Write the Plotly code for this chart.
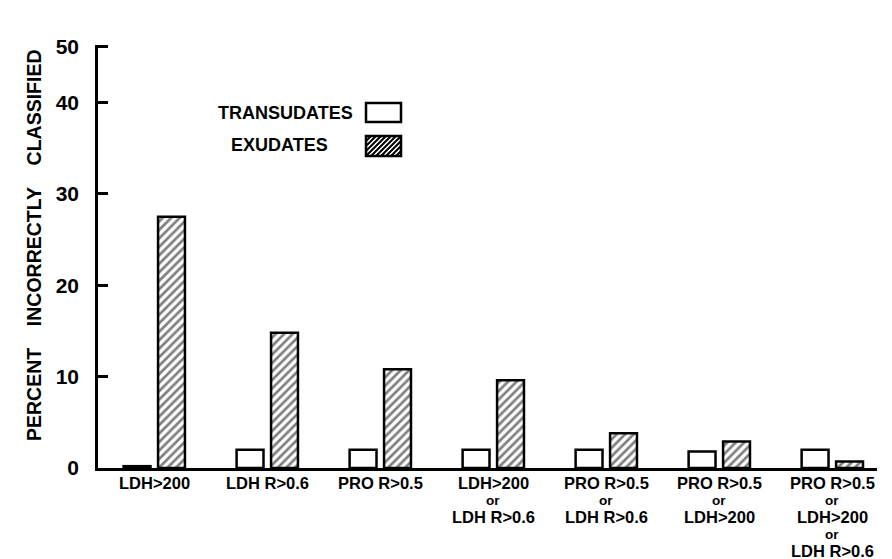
import plotly.graph_objects as go

categories = ["LDH>200", "LDH R>0.6", "PRO R>0.5",
              "LDH>200 or LDH R>0.6", "PRO R>0.5 or LDH R>0.6",
              "PRO R>0.5 or LDH>200", "PRO R>0.5 or LDH>200 or LDH R>0.6"]
label_lines = [["LDH>200"], ["LDH R>0.6"], ["PRO R>0.5"],
               ["LDH>200", "or", "LDH R>0.6"],
               ["PRO R>0.5", "or", "LDH R>0.6"],
               ["PRO R>0.5", "or", "LDH>200"],
               ["PRO R>0.5", "or", "LDH>200", "or", "LDH R>0.6"]]
transudates = [0.2, 2.0, 2.0, 2.0, 2.0, 1.8, 2.0]
exudates = [27.5, 14.8, 10.8, 9.6, 3.8, 2.9, 0.7]
y_tick_values = [0, 10, 20, 30, 40, 46.1]
y_tick_text = ["0", "10", "20", "30", "40", "50"]

OFF = 8  # page body margin
W, H = 892 - OFF, 559 - OFF
ML, MT = 98 - OFF, 45 - OFF
PB, PR = 468 - OFF, 877 - OFF
MR, MB = W - PR, H - PB
PW, PH = PR - ML, PB - MT
FONT = "Liberation Sans, Arial, sans-serif"

def f(size):
    return dict(family=FONT, size=size, color="black", weight="bold")

fig = go.Figure()
fig.add_trace(go.Bar(x=categories, y=transudates, name="TRANSUDATES",
                     width=0.238, offset=-0.27,
                     marker=dict(color="white", line=dict(color="black", width=2.5))))
fig.add_trace(go.Bar(x=categories, y=exudates, name="EXUDATES",
                     width=0.238, offset=0.035,
                     marker=dict(color="white", line=dict(color="black", width=2.5),
                                 pattern=dict(shape="/", fgcolor="black", bgcolor="white",
                                              size=6, solidity=0.45))))

annotations = []
for cat, lines in zip(categories, label_lines):
    for k, line in enumerate(lines):
        annotations.append(dict(x=cat, xref="x", y=0, yref="y", text=line,
                                showarrow=False, xanchor="center", yanchor="middle",
                                yshift=-15 - 17 * k,
                                font=f(13.5 if line == "or" else 16.5)))

def px_to_paper(px, py):
    # page pixel coords -> paper coords
    return (px - OFF - ML) / PW, (MT + PH - (py - OFF)) / PH

gap = "\u00a0" * 4
_, ty = px_to_paper(0, 245)
annotations.append(dict(x=0, xref="paper", y=ty, yref="paper",
                        text=f"PERCENT{gap}INCORRECTLY{gap}CLASSIFIED",
                        textangle=-90, showarrow=False, xanchor="center", yanchor="middle",
                        xshift=-64, font=f(19.5)))

lx, ly = px_to_paper(355, 113)
annotations.append(dict(x=lx, y=ly, xref="paper", yref="paper", text="TRANSUDATES",
                        showarrow=False, xanchor="right", yanchor="middle", font=f(18)))
lx, ly = px_to_paper(330, 145)
annotations.append(dict(x=lx, y=ly, xref="paper", yref="paper", text="EXUDATES",
                        showarrow=False, xanchor="right", yanchor="middle", font=f(18)))

shapes = []
x0, y0 = px_to_paper(366, 103)
x1, y1 = px_to_paper(401, 122)
shapes.append(dict(type="rect", xref="paper", yref="paper", x0=x0, x1=x1, y0=y1, y1=y0,
                   line=dict(color="black", width=2.5), fillcolor="white"))
bx0, by0, bx1, by1 = 366, 136, 401, 156
x0, y0 = px_to_paper(bx0, by0)
x1, y1 = px_to_paper(bx1, by1)
path = ""
step = 5
for s in range(-(by1 - by0), bx1 - bx0, step):
    xa, ya = bx0 + s, by1
    xb, yb = xa + (by1 - by0), by0
    if xa < bx0:
        ya -= (bx0 - xa); xa = bx0
    if xb > bx1:
        yb += (xb - bx1); xb = bx1
    if xb <= xa:
        continue
    pa = px_to_paper(xa, ya)
    pb = px_to_paper(xb, yb)
    path += f"M{pa[0]},{pa[1]} L{pb[0]},{pb[1]} "
shapes.append(dict(type="path", xref="paper", yref="paper", path=path,
                   line=dict(color="black", width=2)))
shapes.append(dict(type="rect", xref="paper", yref="paper", x0=x0, x1=x1, y0=y1, y1=y0,
                   line=dict(color="black", width=2.5)))

fig.update_layout(
    width=W, height=H,
    margin=dict(l=ML, r=MR, t=MT, b=MB, autoexpand=False),
    paper_bgcolor="white", plot_bgcolor="white",
    showlegend=False,
    barmode="overlay",
    annotations=annotations, shapes=shapes,
    font=dict(family=FONT, color="black"),
    xaxis=dict(type="category", range=[-0.4965, 6.397], showticklabels=False,
               showline=True, linecolor="black", linewidth=2.5, ticks="",
               showgrid=False, zeroline=False, fixedrange=True),
    yaxis=dict(range=[0, 46.3], tickvals=y_tick_values, ticktext=y_tick_text,
               ticks="inside", ticklen=10, tickwidth=2.5, tickcolor="black",
               showline=True, linecolor="black", linewidth=2.5,
               showgrid=False, zeroline=False, ticklabelstandoff=12,
               tickfont=f(21)),
)

fig.write_html("out.html")
